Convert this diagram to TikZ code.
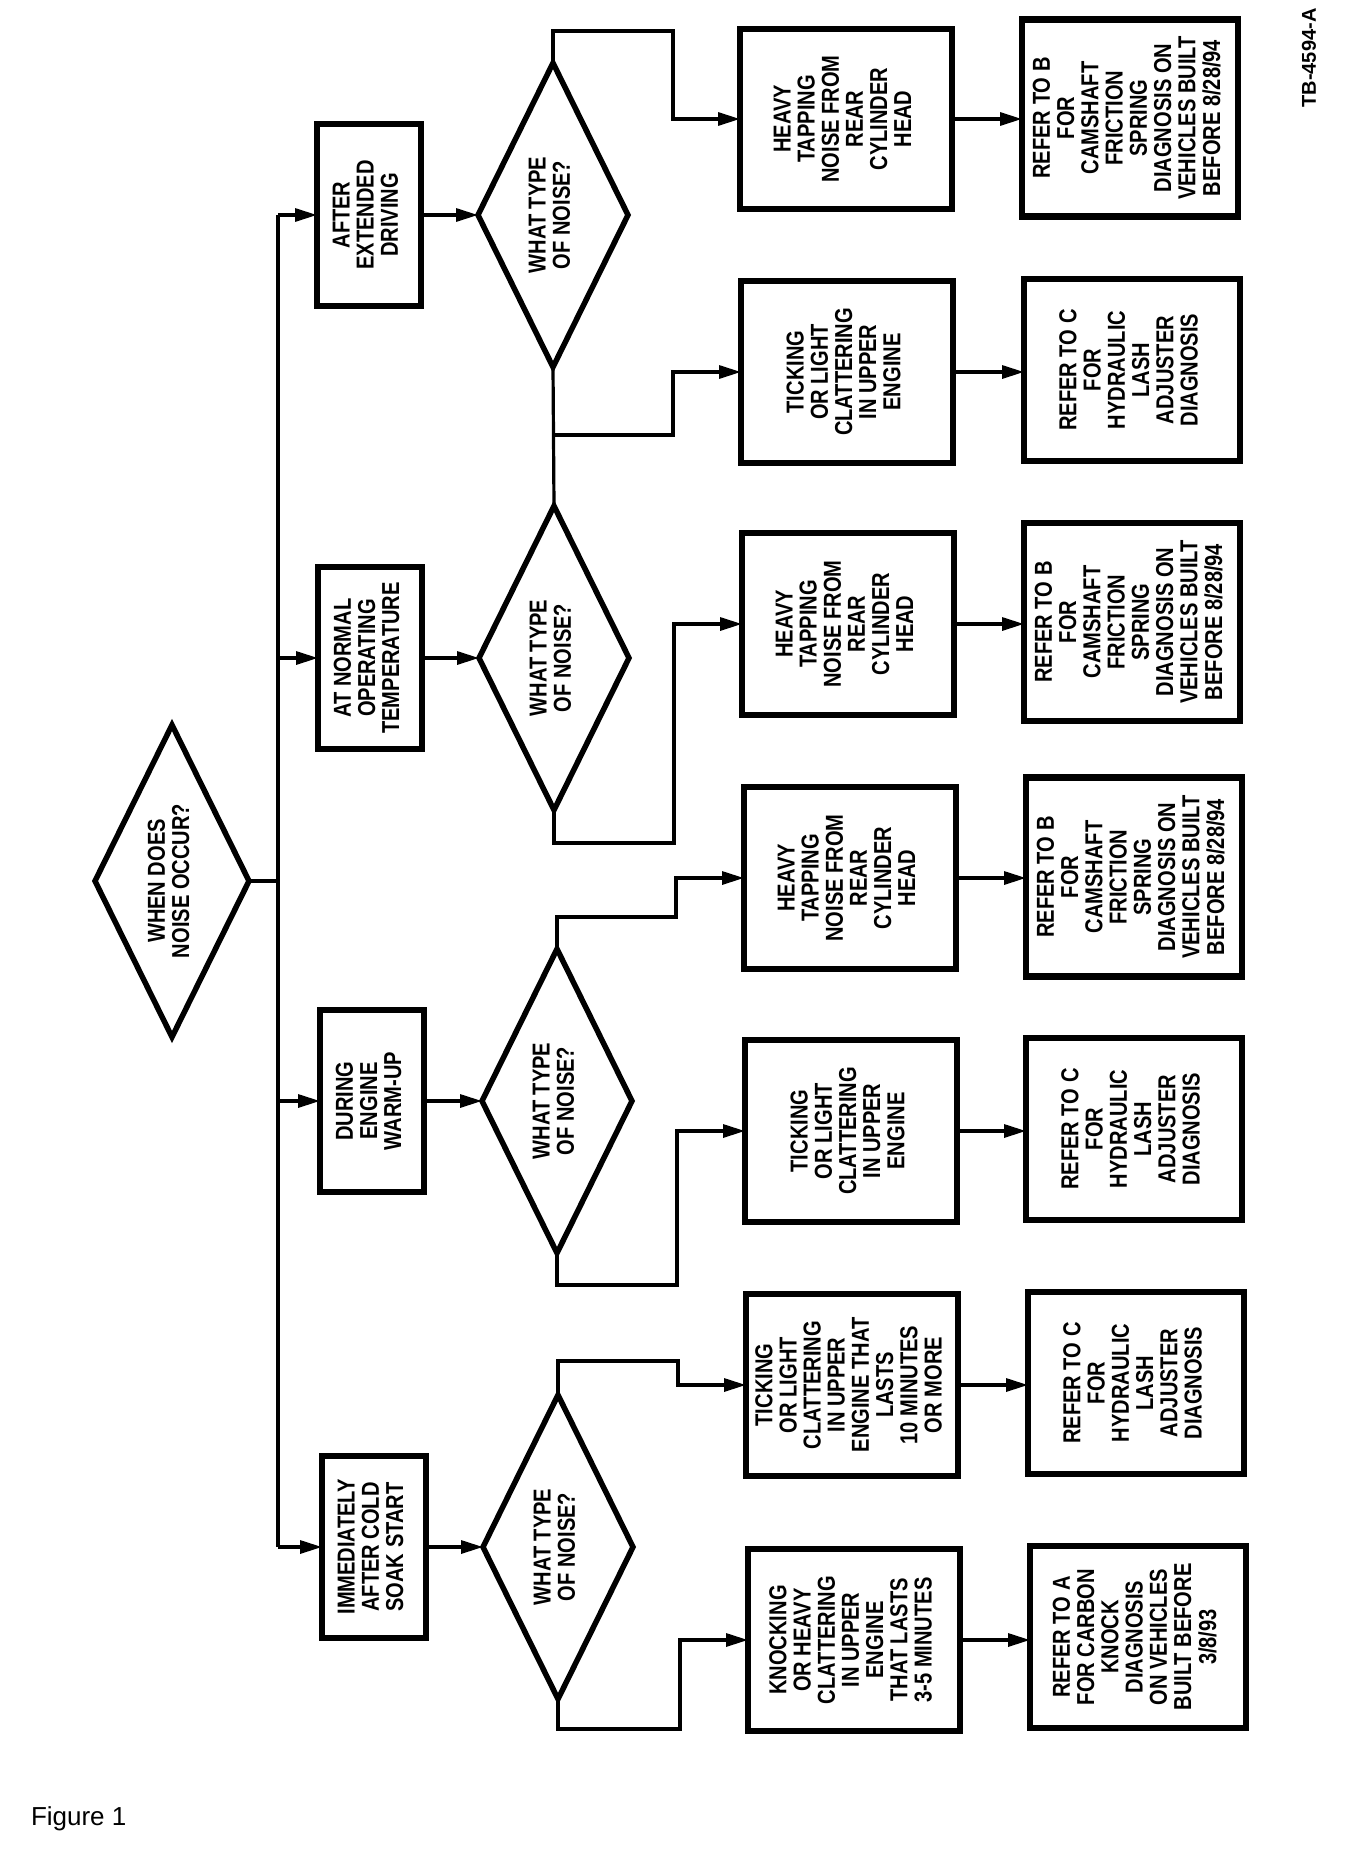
\documentclass[tikz,border=0pt]{standalone}
\usepackage{fontspec}
\usepackage{graphicx}
\setsansfont{Liberation Sans}
\newfontfamily\condf[FakeStretch=0.82]{Liberation Sans}
\usetikzlibrary{shapes.geometric,arrows.meta}
\newcommand{\rt}[1]{\rotatebox{90}{\begin{tabular}{@{}c@{}}#1\end{tabular}}}
\begin{document}
\begin{tikzpicture}[x=1pt,y=-1pt,
  every node/.style={inner sep=0pt, outer sep=0pt},
  txt/.style={font=\condf\bfseries\fontsize{24.5pt}{23.8pt}\selectfont},
  abox/.style={txt, draw, line width=6.5pt, minimum width=104pt, minimum height=182pt},
  bbox/.style={txt, draw, line width=6.5pt, minimum width=212pt, minimum height=182pt},
  cbox/.style={txt, draw, line width=6.5pt, minimum width=216pt, minimum height=182pt},
  dia/.style={txt, draw, diamond, aspect=0.5, line width=5.5pt, minimum width=150pt, minimum height=304pt},
  ln/.style={line width=3.2pt},
  arr/.style={line width=3.2pt, -{Triangle[length=22pt,width=13pt]}}]

\useasboundingbox (0,0) rectangle (1344,1852);
\fill[white] (0,0) rectangle (1344,1852);

% main question
\node[dia, minimum width=154pt, minimum height=312pt] (m) at (172,881) {\rt{WHEN DOES\\NOISE OCCUR?}};

% situations
\node[abox] (a1) at (369,215) {\rt{AFTER\\EXTENDED\\DRIVING}};
\node[abox] (a2) at (370,658) {\rt{AT NORMAL\\OPERATING\\TEMPERATURE}};
\node[abox] (a3) at (372,1101) {\rt{DURING\\ENGINE\\WARM-UP}};
\node[abox] (a4) at (374,1547) {\rt{IMMEDIATELY\\AFTER COLD\\SOAK START}};

% type questions
\node[dia] (d1) at (553,215) {\rt{WHAT TYPE\\OF NOISE?}};
\node[dia] (d2) at (554,658) {\rt{WHAT TYPE\\OF NOISE?}};
\node[dia] (d3) at (557,1101) {\rt{WHAT TYPE\\OF NOISE?}};
\node[dia] (d4) at (558,1547) {\rt{WHAT TYPE\\OF NOISE?}};

% symptoms
\node[bbox, minimum height=180pt] (ht1) at (846,119) {\rt{HEAVY\\TAPPING\\NOISE FROM\\REAR\\CYLINDER\\HEAD}};
\node[bbox] (tk1) at (847,372) {\rt{TICKING\\OR LIGHT\\CLATTERING\\IN UPPER\\ENGINE}};
\node[bbox] (ht2) at (848,624) {\rt{HEAVY\\TAPPING\\NOISE FROM\\REAR\\CYLINDER\\HEAD}};
\node[bbox] (ht3) at (850,878) {\rt{HEAVY\\TAPPING\\NOISE FROM\\REAR\\CYLINDER\\HEAD}};
\node[bbox] (tk2) at (851,1131) {\rt{TICKING\\OR LIGHT\\CLATTERING\\IN UPPER\\ENGINE}};
\node[bbox] (tk3) at (852,1385) {\rt{TICKING\\OR LIGHT\\CLATTERING\\IN UPPER\\ENGINE THAT\\LASTS\\10 MINUTES\\OR MORE}};
\node[bbox] (kn) at (854,1640) {\rt{KNOCKING\\OR HEAVY\\CLATTERING\\IN UPPER\\ENGINE\\THAT LASTS\\3-5 MINUTES}};

% references
\node[cbox, minimum height=197pt] (rb1) at (1130,118) {\rt{REFER TO B\\FOR\\CAMSHAFT\\FRICTION\\SPRING\\DIAGNOSIS ON\\VEHICLES BUILT\\BEFORE 8/28/94}};
\node[cbox] (rc1) at (1132,370) {\rt{REFER TO C\\FOR\\HYDRAULIC\\LASH\\ADJUSTER\\DIAGNOSIS}};
\node[cbox, minimum height=198pt] (rb2) at (1132,622) {\rt{REFER TO B\\FOR\\CAMSHAFT\\FRICTION\\SPRING\\DIAGNOSIS ON\\VEHICLES BUILT\\BEFORE 8/28/94}};
\node[cbox, minimum height=199pt] (rb3) at (1134,877) {\rt{REFER TO B\\FOR\\CAMSHAFT\\FRICTION\\SPRING\\DIAGNOSIS ON\\VEHICLES BUILT\\BEFORE 8/28/94}};
\node[cbox] (rc2) at (1134,1129) {\rt{REFER TO C\\FOR\\HYDRAULIC\\LASH\\ADJUSTER\\DIAGNOSIS}};
\node[cbox] (rc3) at (1136,1383) {\rt{REFER TO C\\FOR\\HYDRAULIC\\LASH\\ADJUSTER\\DIAGNOSIS}};
\node[cbox] (ra) at (1138,1637) {\rt{REFER TO A\\FOR CARBON\\KNOCK\\DIAGNOSIS\\ON VEHICLES\\BUILT BEFORE\\3/8/93}};

% labels
\node[font=\bfseries\fontsize{20pt}{20pt}\selectfont\sffamily, rotate=90] (tb) at (1309,58) {TB-4594-A};
\node[font=\sffamily\fontsize{26pt}{26pt}\selectfont, anchor=base west] (fig) at (31,1825) {Figure 1};

% spine
\coordinate (s1) at (278,215);
\coordinate (s4) at (278,1547);
\draw[ln] (m.east) -- (m.east -| s1);
\draw[ln] (s1) -- (s4);
\draw[arr] (s1) -- (a1.west);
\draw[arr] (a2.west -| s1) -- (a2.west);
\draw[arr] (a3.west -| s1) -- (a3.west);
\draw[arr] (s4) -- (a4.west);

% situation -> question
\draw[arr] (a1.east) -- (d1.west);
\draw[arr] (a2.east) -- (d2.west);
\draw[arr] (a3.east) -- (d3.west);
\draw[arr] (a4.east) -- (d4.west);

% question -> symptom
\coordinate (k1t) at (673,31);
\coordinate (k1b) at (673,435);
\coordinate (k2b) at (674,843);
\coordinate (k3t) at (676,917);
\coordinate (k3b) at (677,1285);
\coordinate (k4t) at (678,1361);
\coordinate (k4b) at (680,1729);
\draw[arr] (d1.north) |- (k1t) |- (ht1.west);
\draw[ln] (d1.south) -- (d2.north);
\draw[arr] (d1.south |- k1b) -- (k1b) |- (tk1.west);
\draw[arr] (d2.south) |- (k2b) |- (ht2.west);
\draw[arr] (d3.north) |- (k3t) |- (ht3.west);
\draw[arr] (d3.south) |- (k3b) |- (tk2.west);
\draw[arr] (d4.north) |- (k4t) |- (tk3.west);
\draw[arr] (d4.south) |- (k4b) |- (kn.west);

% symptom -> reference
\draw[arr] (ht1.east) -- (ht1.east -| rb1.west);
\draw[arr] (tk1.east) -- (tk1.east -| rc1.west);
\draw[arr] (ht2.east) -- (ht2.east -| rb2.west);
\draw[arr] (ht3.east) -- (ht3.east -| rb3.west);
\draw[arr] (tk2.east) -- (tk2.east -| rc2.west);
\draw[arr] (tk3.east) -- (tk3.east -| rc3.west);
\draw[arr] (kn.east) -- (kn.east -| ra.west);
\end{tikzpicture}
\end{document}
